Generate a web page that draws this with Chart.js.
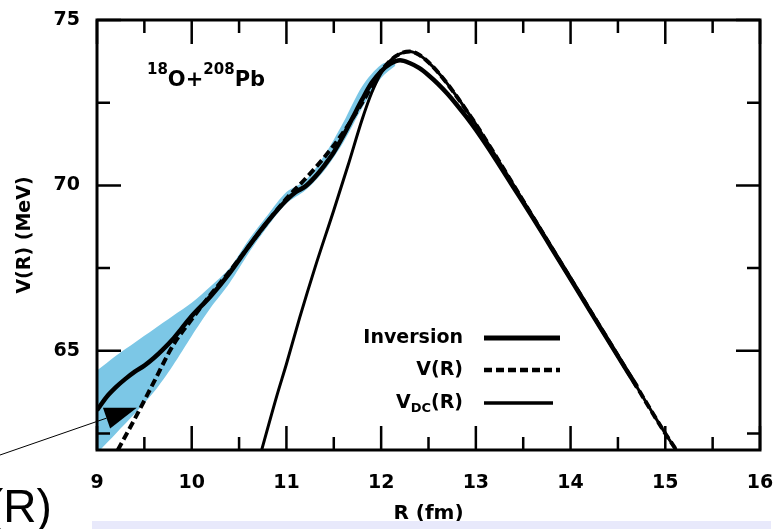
<!DOCTYPE html>
<html lang="en">
<head>
<meta charset="UTF-8">
<title>V(R) for 18O+208Pb</title>
<script src="https://cdn.jsdelivr.net/npm/chart.js"></script>
<style>
    body, html { margin: 0; padding: 0; background: #fff; }
    #wrap { width: 781px; height: 529px; }
</style>
</head>
<body>
<div id="wrap"><canvas id="potChart" width="781" height="529"></canvas></div>
<script>
// Barrier from the inversion (thick solid)
const rInv = [9.0, 9.1, 9.2, 9.3, 9.4, 9.5, 9.6, 9.7, 9.8, 9.9, 10.0, 10.2, 10.4, 10.6, 10.8, 11.0, 11.1, 11.2, 11.3, 11.4, 11.5, 11.6, 11.7, 11.8, 11.9, 12.0, 12.1, 12.2, 12.3, 12.4, 12.5, 12.6, 12.7, 12.8, 12.9, 13.0, 13.2, 13.4, 13.6, 13.8, 14.0, 14.2, 14.4, 14.6, 14.7];
const vInv = [63.2, 63.6, 63.9, 64.15, 64.37, 64.55, 64.78, 65.05, 65.35, 65.7, 66.05, 66.65, 67.35, 68.15, 68.9, 69.55, 69.8, 69.97, 70.25, 70.6, 71.0, 71.5, 72.05, 72.6, 73.1, 73.45, 73.68, 73.78, 73.7, 73.55, 73.33, 73.07, 72.77, 72.43, 72.07, 71.68, 70.83, 69.93, 69.03, 68.1, 67.17, 66.23, 65.3, 64.37, 63.92];

// Uncertainty band of the inversion
const rBand = [9.0, 9.2, 9.4, 9.6, 9.8, 10.0, 10.2, 10.4, 10.6, 10.8, 11.0, 11.2, 11.4, 11.6, 11.8, 12.0, 12.15];
const bandLo = [61.9, 62.5, 63.1, 63.75, 64.55, 65.45, 66.3, 67.05, 67.95, 68.75, 69.45, 69.85, 70.45, 71.3, 72.35, 73.25, 73.62];
const bandHi = [64.4, 64.85, 65.25, 65.65, 66.05, 66.45, 66.95, 67.5, 68.35, 69.1, 69.8, 70.15, 70.9, 71.9, 73.0, 73.65, 73.75];

// V(R) (dashed)
const rWs = [9.22, 9.4, 9.6, 9.8, 10.0, 10.2, 10.4, 10.6, 10.8, 11.0, 11.2, 11.4, 11.6, 11.8, 11.9, 12.0, 12.1, 12.2, 12.3, 12.4, 12.5, 12.6, 12.7, 12.8, 12.9, 13.0, 13.4, 13.8, 14.2, 14.6, 15.0, 15.2];
const vWs = [62.0, 62.95, 64.05, 65.15, 65.95, 66.7, 67.4, 68.15, 68.9, 69.6, 70.2, 70.85, 71.6, 72.5, 73.0, 73.45, 73.78, 73.98, 74.05, 73.95, 73.72, 73.42, 73.07, 72.68, 72.27, 71.85, 70.0, 68.12, 66.25, 64.38, 62.5, 61.65];

// V_DC(R) (thin solid)
const rDc = [10.7, 10.9, 11.0, 11.14, 11.3, 11.5, 11.65, 11.8, 11.9, 12.0, 12.1, 12.2, 12.3, 12.4, 12.5, 12.6, 12.7, 12.8, 12.9, 13.0, 13.4, 13.8, 14.2, 14.6, 15.0, 15.2];
const vDc = [61.6, 63.65, 64.6, 66.0, 67.5, 69.25, 70.6, 72.0, 72.8, 73.4, 73.78, 73.98, 74.05, 73.95, 73.72, 73.42, 73.07, 72.68, 72.27, 71.85, 70.0, 68.12, 66.25, 64.38, 62.5, 61.65];

const xTicks = [9, 10, 11, 12, 13, 14, 15, 16];
const xMinorTicks = [9.5, 10.5, 11.5, 12.5, 13.5, 14.5, 15.5];
const yTicks = [65, 70, 75];
const yMinorTicks = [62.5, 67.5, 72.5];

const legendNames = ['Inversion', 'V(R)', 'V_DC(R)'];

const pts = (xs, ys) => xs.map((v, i) => ({ x: v, y: ys[i] }));
const FONT = '"DejaVu Sans", sans-serif';

// frame with inward ticks, reaction label, legend and the pointer arrow
const frameAndNotes = {
    id: 'frameAndNotes',
    afterDraw(chart) {
        const { ctx, chartArea: a, scales: { x, y } } = chart;
        ctx.save();
        ctx.strokeStyle = '#000';
        ctx.fillStyle = '#000';

        ctx.lineWidth = 2.5;
        ctx.beginPath();
        const xt = (v, len) => {
            const px = x.getPixelForValue(v);
            ctx.moveTo(px, a.bottom); ctx.lineTo(px, a.bottom - len);
            ctx.moveTo(px, a.top); ctx.lineTo(px, a.top + len);
        };
        const yt = (v, len) => {
            const py = y.getPixelForValue(v);
            ctx.moveTo(a.left, py); ctx.lineTo(a.left + len, py);
            ctx.moveTo(a.right, py); ctx.lineTo(a.right - len, py);
        };
        xTicks.forEach(v => xt(v, 24));
        xMinorTicks.forEach(v => xt(v, 13));
        yTicks.forEach(v => yt(v, 24));
        yMinorTicks.forEach(v => yt(v, 13));
        ctx.stroke();

        ctx.lineWidth = 3;
        ctx.strokeRect(a.left, a.top, a.width, a.height);

        // 18O + 208Pb
        let tx = a.left + 50;
        const big = 'bold 19px ' + FONT;
        const noteBig = 'bold 21px ' + FONT, noteSmall = 'bold 15px ' + FONT;
        ctx.textAlign = 'left';
        ctx.textBaseline = 'alphabetic';
        [['18', noteSmall, 54], ['O+', noteBig, 66], ['208', noteSmall, 54], ['Pb', noteBig, 66]].forEach(([s, f, dy]) => {
            ctx.font = f;
            ctx.fillText(s, tx, a.top + dy);
            tx += ctx.measureText(s).width;
        });

        // legend: text on the left, line sample on the right
        const ds = chart.data.datasets;
        const textRight = a.left + 366;
        const rows = [a.top + 318, a.top + 350, a.top + 383];
        const lineEnd = [a.left + 463, a.left + 463, a.left + 456];
        legendNames.forEach((name, i) => {
            const d = ds[i + 2];
            const ly = rows[i];
            ctx.textBaseline = 'middle';
            ctx.textAlign = 'right';
            if (name === 'V_DC(R)') {
                ctx.font = big;
                const w1 = ctx.measureText('V').width, w3 = ctx.measureText('(R)').width;
                ctx.font = 'bold 13px ' + FONT;
                const w2 = ctx.measureText('DC').width;
                let sx = textRight - (w1 + w2 + w3);
                ctx.textAlign = 'left';
                ctx.font = big; ctx.fillText('V', sx, ly); sx += w1;
                ctx.font = 'bold 13px ' + FONT; ctx.fillText('DC', sx, ly + 6); sx += w2;
                ctx.font = big; ctx.fillText('(R)', sx, ly);
            } else {
                ctx.font = big;
                ctx.fillText(name, textRight, ly);
            }
            ctx.beginPath();
            ctx.lineWidth = d.borderWidth + 0.5;
            ctx.setLineDash(d.borderDash || []);
            ctx.moveTo(a.left + 387, ly);
            ctx.lineTo(lineEnd[i], ly);
            ctx.stroke();
            ctx.setLineDash([]);
        });

        // pointer arrow coming in from the left edge
        const tipX = x.getPixelForValue(9.42), tipY = y.getPixelForValue(63.28);
        const sx0 = 0, sy0 = 455;
        const len = Math.hypot(tipX - sx0, tipY - sy0);
        const ux = (tipX - sx0) / len, uy = (tipY - sy0) / len;
        const bx = tipX - 32 * ux, by = tipY - 32 * uy;
        ctx.lineWidth = 1;
        ctx.beginPath();
        ctx.moveTo(sx0, sy0); ctx.lineTo(bx, by);
        ctx.stroke();
        ctx.beginPath();
        ctx.moveTo(tipX, tipY);
        ctx.lineTo(bx - 11 * uy, by + 11 * ux);
        ctx.lineTo(bx + 11 * uy, by - 11 * ux);
        ctx.closePath();
        ctx.fill();

        // bits of the surrounding slide
        ctx.font = '46px "Liberation Sans", sans-serif';
        ctx.textAlign = 'left';
        ctx.textBaseline = 'alphabetic';
        ctx.fillText('(R)', -12, 522);
        ctx.fillStyle = '#e8e9fb';
        ctx.fillRect(92, 521, 679, 8);
        ctx.restore();
    }
};

new Chart(document.getElementById('potChart').getContext('2d'), {
    type: 'line',
    data: {
        datasets: [
            { data: pts(rBand, bandLo), borderWidth: 0, pointRadius: 0, fill: false, tension: 0.3, order: 5 },
            { data: pts(rBand, bandHi), borderWidth: 0, pointRadius: 0, fill: '-1', backgroundColor: '#7cc7e6', tension: 0.3, order: 5 },
            { label: 'Inversion', data: pts(rInv, vInv), borderColor: '#000', borderWidth: 4.5, pointRadius: 0, fill: false, cubicInterpolationMode: 'monotone', order: 1 },
            { label: 'V(R)', data: pts(rWs, vWs), borderColor: '#000', borderWidth: 4, borderDash: [8, 4], pointRadius: 0, fill: false, cubicInterpolationMode: 'monotone', order: 2 },
            { label: 'V_DC(R)', data: pts(rDc, vDc), borderColor: '#000', borderWidth: 3, pointRadius: 0, fill: false, cubicInterpolationMode: 'monotone', order: 3 }
        ]
    },
    options: {
        responsive: false,
        animation: false,
        devicePixelRatio: 1,
        layout: { padding: { left: 0, right: 21, top: 20, bottom: 0 } },
        plugins: { legend: { display: false }, tooltip: { enabled: false } },
        scales: {
            x: {
                type: 'linear', min: 9, max: 16,
                afterBuildTicks: s => { s.ticks = xTicks.map(v => ({ value: v })); },
                afterFit: s => { s.height = 79; s.paddingLeft = 0; s.paddingRight = 0; },
                grid: { display: false, drawTicks: false },
                border: { display: false },
                ticks: { color: '#000', padding: 22, font: { family: FONT, size: 19, weight: 'bold' } },
                title: { display: true, text: 'R (fm)', color: '#000', padding: { top: 0, bottom: 3 }, font: { family: FONT, size: 20, weight: 'bold' } }
            },
            y: {
                type: 'linear', min: 62, max: 75,
                afterBuildTicks: s => { s.ticks = yTicks.map(v => ({ value: v })); },
                afterFit: s => { s.width = 97; s.paddingTop = 0; s.paddingBottom = 0; },
                grid: { display: false, drawTicks: false },
                border: { display: false },
                ticks: { color: '#000', padding: 17, font: { family: FONT, size: 19, weight: 'bold' } },
                title: { display: true, text: 'V(R) (MeV)', color: '#000', padding: { top: 14, bottom: 0 }, font: { family: FONT, size: 19, weight: 'bold' } }
            }
        }
    },
    plugins: [frameAndNotes]
});
</script>
</body>
</html>
